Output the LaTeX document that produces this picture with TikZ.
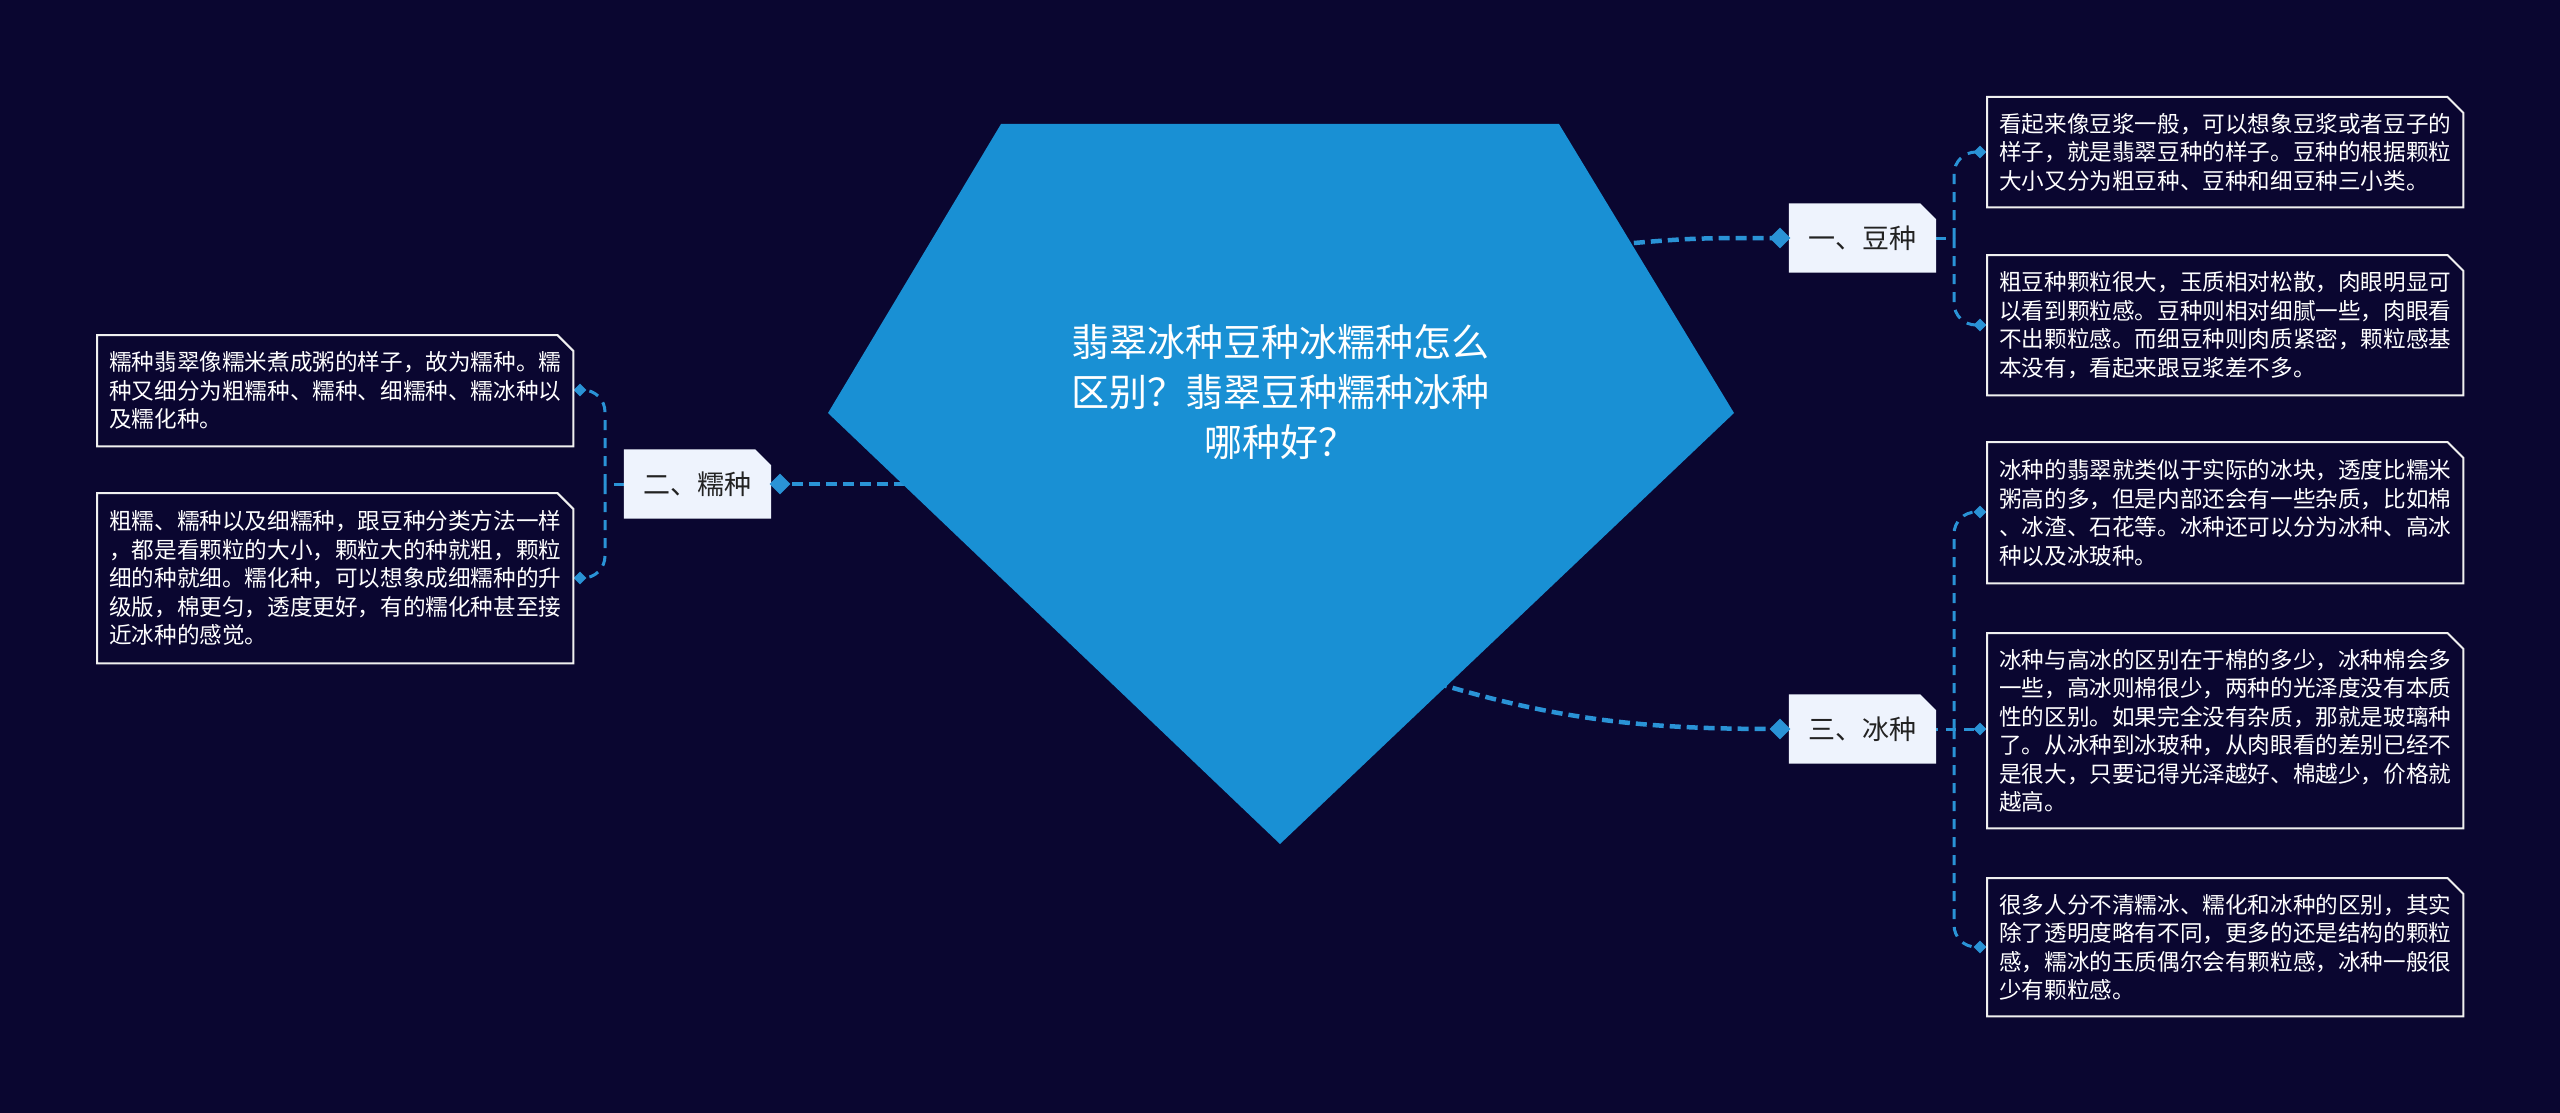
\documentclass[tikz,border=0pt]{standalone}
\usepackage{fontspec}
\setmainfont{Noto Sans CJK SC}
\usetikzlibrary{shapes.geometric,backgrounds}
\definecolor{bgc}{HTML}{0A0630}
\definecolor{pentc}{HTML}{1990D4}
\definecolor{linec}{HTML}{2A93D6}
\definecolor{topicfill}{HTML}{EEF3FD}
\definecolor{topictext}{HTML}{222222}
\newcommand\cutshape[3]{\path[#3] (#1.south west) -- (#1.north west) -- ([xshift=-#2]#1.north east) -- ([yshift=-#2]#1.north east) -- (#1.south east) -- cycle;}
\tikzset{
  mainline/.style={draw=linec, line width=4.5pt, dash pattern=on 11pt off 6pt},
  subline/.style={draw=linec, line width=3pt, dash pattern=on 10pt off 8pt, rounded corners=22pt},
  bigdia/.style={diamond, fill=linec, inner sep=0pt, minimum width=21pt, minimum height=21pt},
  smalldia/.style={diamond, fill=linec, inner sep=0pt, minimum width=13pt, minimum height=13pt},
  topic/.style={inner sep=0pt, minimum width=147pt, minimum height=69pt, text=topictext, font=\fontsize{27}{27}\selectfont},
  txtbox/.style={anchor=north west, text width=452pt, inner xsep=12pt, inner ysep=0pt, align=left, text=white, font=\fontsize{22.6}{28.5}\selectfont},
  boxline/.style={draw=white!94!black, line width=2pt},
  roottext/.style={align=center, text=white, font=\fontsize{38}{50}\selectfont}
}
\begin{document}
\begin{tikzpicture}[x=1pt,y=-1pt]
\useasboundingbox (0,0) rectangle (2560,1113);
\begin{scope}[on background layer]
\fill[bgc] (0,0) rectangle (2560,1113);
\end{scope}

% named anchor points
\coordinate (e1) at (1600,246);
\coordinate (e2) at (905,484);
\coordinate (e3) at (1420,678);
\coordinate (j1) at (1954,238);
\coordinate (j3) at (1954,729);
\coordinate (j2) at (605,484);

% topic nodes
\node[topic] (t1) at (1862.5,238) {一、豆种};
\node[topic] (t3) at (1862.5,729) {三、冰种};
\node[topic] (t2) at (697.5,484) {二、糯种};

% diamonds
\node[bigdia] (d1) at (1780,238) {};
\node[bigdia] (d3) at (1780,729) {};
\node[bigdia] (d2) at (780,484) {};
\node[smalldia] (c11) at (1980,152) {};
\node[smalldia] (c12) at (1980,325) {};
\node[smalldia] (c31) at (1980,512) {};
\node[smalldia] (c32) at (1980,729) {};
\node[smalldia] (c33) at (1980,947) {};
\node[smalldia] (c21) at (580,390) {};
\node[smalldia] (c22) at (580,578) {};

% text boxes
\node[txtbox, minimum height=110pt] (b11) at (1987,97) {看起来像豆浆一般，可以想象豆浆或者豆子的\\样子，就是翡翠豆种的样子。豆种的根据颗粒\\大小又分为粗豆种、豆种和细豆种三小类。};
\node[txtbox, minimum height=140pt] (b12) at (1987,255) {粗豆种颗粒很大，玉质相对松散，肉眼明显可\\以看到颗粒感。豆种则相对细腻一些，肉眼看\\不出颗粒感。而细豆种则肉质紧密，颗粒感基\\本没有，看起来跟豆浆差不多。};
\node[txtbox, minimum height=141pt] (b31) at (1987,442) {冰种的翡翠就类似于实际的冰块，透度比糯米\\粥高的多，但是内部还会有一些杂质，比如棉\\、冰渣、石花等。冰种还可以分为冰种、高冰\\种以及冰玻种。};
\node[txtbox, minimum height=195pt] (b32) at (1987,633) {冰种与高冰的区别在于棉的多少，冰种棉会多\\一些，高冰则棉很少，两种的光泽度没有本质\\性的区别。如果完全没有杂质，那就是玻璃种\\了。从冰种到冰玻种，从肉眼看的差别已经不\\是很大，只要记得光泽越好、棉越少，价格就\\越高。};
\node[txtbox, minimum height=138pt] (b33) at (1987,878) {很多人分不清糯冰、糯化和冰种的区别，其实\\除了透明度略有不同，更多的还是结构的颗粒\\感，糯冰的玉质偶尔会有颗粒感，冰种一般很\\少有颗粒感。};
\node[txtbox, minimum height=111pt] (b21) at (97,335) {糯种翡翠像糯米煮成粥的样子，故为糯种。糯\\种又细分为粗糯种、糯种、细糯种、糯冰种以\\及糯化种。};
\node[txtbox, minimum height=170pt] (b22) at (97,493) {粗糯、糯种以及细糯种，跟豆种分类方法一样\\，都是看颗粒的大小，颗粒大的种就粗，颗粒\\细的种就细。糯化种，可以想象成细糯种的升\\级版，棉更匀，透度更好，有的糯化种甚至接\\近冰种的感觉。};
\foreach \b in {b11,b12,b31,b32,b33,b21,b22}{\cutshape{\b}{16pt}{boxline}}

% connectors and topic fills on the background layer (above the page fill)
\begin{scope}[on background layer]
\draw[mainline] (e1) .. controls (1690,238) .. (d1.center);
\draw[mainline] (e3) .. controls (1560,722) and (1650,729) .. (d3.center);
\draw[mainline] (e2) -- (d2.center);
\draw[subline] (t1.east) -- (j1);
\draw[subline] (j1) |- (c11.center);
\draw[subline] (j1) |- (c12.center);
\draw[subline] (t3.east) -- (j3) -- (c32.center);
\draw[subline] (j3) |- (c31.center);
\draw[subline] (j3) |- (c33.center);
\draw[subline] (t2.west) -- (j2);
\draw[subline] (j2) |- (c21.center);
\draw[subline] (j2) |- (c22.center);
\cutshape{t1}{16pt}{fill=topicfill}
\cutshape{t3}{16pt}{fill=topicfill}
\cutshape{t2}{16pt}{fill=topicfill}
\end{scope}

% root pentagon
\fill[pentc] (1001,124) -- (1559,124) -- (1734,413) -- (1280,844) -- (828,413) -- cycle;
\node[roottext] (root) at (1280,392) {翡翠冰种豆种冰糯种怎么\\区别？翡翠豆种糯种冰种\\哪种好？};
\end{tikzpicture}
\end{document}
